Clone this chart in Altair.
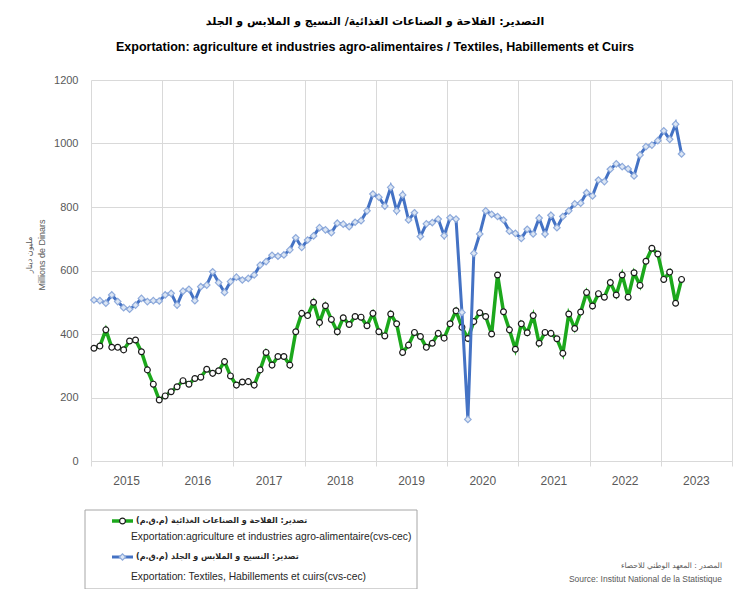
import altair as alt
import pandas as pd

# ---------------- data (monthly, Jan 2015 - Apr 2023) ----------------
years = [2015, 2016, 2017, 2018, 2019, 2020, 2021, 2022, 2023]

agri = [355, 362, 413, 358, 358, 350, 378, 381, 344, 287, 242, 192,
        205, 218, 234, 253, 242, 260, 264, 289, 276, 284, 313, 268,
        239, 249, 250, 239, 287, 342, 302, 329, 329, 302, 407, 465,
        458, 500, 436, 489, 446, 407, 451, 430, 455, 453, 426, 465,
        407, 394, 463, 432, 342, 365, 405, 392, 358, 371, 402, 387,
        432, 473, 421, 386, 439, 467, 455, 400, 586, 470, 413, 352,
        432, 404, 458, 371, 405, 402, 385, 339, 463, 417, 469, 531,
        488, 527, 516, 562, 523, 586, 516, 593, 553, 629, 670, 652,
        572, 595, 497, 572]

textile = [507, 505, 497, 523, 502, 483, 478, 491, 512, 502, 505, 504,
           523, 528, 491, 535, 541, 505, 549, 554, 596, 562, 531, 565,
           579, 570, 575, 586, 617, 628, 648, 645, 649, 665, 703, 673,
           696, 709, 735, 728, 719, 749, 746, 738, 752, 757, 788, 841,
           831, 803, 862, 788, 838, 759, 782, 707, 747, 751, 762, 710,
           766, 762, 468, 131, 654, 715, 788, 777, 770, 759, 724, 717,
           701, 730, 715, 765, 715, 774, 735, 770, 788, 810, 812, 845,
           835, 885, 880, 919, 936, 927, 920, 898, 964, 990, 995, 1009,
           1040, 1013, 1061, 967]

y_ticks = [0, 200, 400, 600, 800, 1000, 1200]

title_ar = "التصدير: الفلاحة و الصناعات الغذائية/ النسيج و الملابس و الجلد"
title_fr = "Exportation: agriculture et industries agro-alimentaires / Textiles, Habillements et Cuirs"
ytitle_ar = "مليون دينار"
ytitle_fr = "Millions de Dinars"
leg_agri_ar = "تصدير: الفلاحة و الصناعات الغذائية  (م.ق.م)\u200f"
leg_agri_fr = "Exportation:agriculture et industries agro-alimentaire(cvs-cec)"
leg_tex_ar = "تصدير: النسيج و الملابس و الجلد (م.ق.م)\u200f"
leg_tex_fr = "Exportation: Textiles, Habillements et cuirs(cvs-cec)"
src_ar = "المصدر : المعهد الوطني للاحصاء"
src_fr = "Source: Institut National de la Statistique"

# ---------------- frames ----------------
n_months = len(years) * 12
rows = []
for i, v in enumerate(agri):
    rows.append({"m": i, "value": v, "series": "agri"})
for i, v in enumerate(textile):
    rows.append({"m": i, "value": v, "series": "textile"})
df = pd.DataFrame(rows)

df_years = pd.DataFrame({"year": [str(y) for y in years],
                         "mid": [12 * k + 5.5 for k in range(len(years))]})
one = pd.DataFrame({"a": [0]})

W, H = 641, 381
GREEN = "#1ca81c"
BLUE = "#4472c4"
GRID = "#d9d9d9"
NARROW = "Liberation Sans Narrow, Arial Narrow, Liberation Sans, sans-serif"
ARAB = "DejaVu Sans, Noto Sans, sans-serif"

bounds = [-0.5 + 12 * k for k in range(len(years) + 1)]
x_scale = alt.Scale(domain=[-0.5, n_months - 0.5], nice=False, zero=False)
y_scale = alt.Scale(domain=[0, 1200], nice=False)

x_enc = alt.X("m:Q", scale=x_scale,
              axis=alt.Axis(values=bounds, labels=False, title=None, grid=True,
                            gridColor=GRID, tickColor=GRID, tickSize=5,
                            domain=False))
y_enc = alt.Y("value:Q", scale=y_scale,
              axis=alt.Axis(values=y_ticks, title=None, grid=True, gridColor=GRID,
                            ticks=False, domain=False, labelColor="#595959",
                            labelFont=NARROW, labelFontSize=11, labelPadding=13,
                            format="d"))

base = alt.Chart(df)
agri_line = base.transform_filter(alt.datum.series == "agri").mark_line(
    color=GREEN, strokeWidth=3.5).encode(x=x_enc, y=y_enc)
agri_pts = base.transform_filter(alt.datum.series == "agri").mark_point(
    shape="circle", filled=True, fill="white", stroke="#1a1a1a",
    strokeWidth=1.2, size=34, opacity=1).encode(x=x_enc, y=y_enc)
tex_line = base.transform_filter(alt.datum.series == "textile").mark_line(
    color=BLUE, strokeWidth=3).encode(x=x_enc, y=y_enc)
tex_pts = base.transform_filter(alt.datum.series == "textile").mark_point(
    shape="diamond", filled=True, fill="#dce6f4", stroke="#8eaadb",
    strokeWidth=1.2, size=42, opacity=1).encode(x=x_enc, y=y_enc)

year_labels = alt.Chart(df_years).mark_text(
    font=NARROW, fontSize=12, color="#595959", baseline="middle").encode(
    x=alt.X("mid:Q", scale=x_scale), y=alt.value(H + 20), text="year:N")


def txt(s, x, y, size, color="#000000", bold=False, align="left",
        font=NARROW, angle=0):
    kw = dict(text=s, fontSize=size, color=color, align=align,
              baseline="middle", font=font,
              fontWeight="bold" if bold else "normal")
    if angle:
        kw["angle"] = angle
    return alt.Chart(one).mark_text(**kw).encode(x=alt.value(x), y=alt.value(y))


titles = [
    txt(title_ar, 284, -58, 11, bold=True, align="center", font=ARAB),
    txt(title_fr, 284, -33, 12.5, bold=True, align="center"),
    txt(ytitle_ar, -61, 175, 8, color="#595959", align="center", font=ARAB, angle=270),
    txt(ytitle_fr, -49, 175, 9, color="#595959", align="center", angle=270),
]

legend_box = alt.Chart(one).mark_rect(fill="white", stroke="#a6a6a6", strokeWidth=1).encode(
    x=alt.value(-6), x2=alt.value(326), y=alt.value(430), y2=alt.value(509))
leg_g_rule = alt.Chart(one).mark_rule(color=GREEN, strokeWidth=3.5).encode(
    x=alt.value(21), x2=alt.value(42), y=alt.value(441))
leg_g_pt = alt.Chart(one).mark_point(shape="circle", filled=True, fill="white",
                                     stroke="#1a1a1a", strokeWidth=1.2, size=34,
                                     opacity=1).encode(x=alt.value(31.5), y=alt.value(441))
leg_b_rule = alt.Chart(one).mark_rule(color=BLUE, strokeWidth=3).encode(
    x=alt.value(21), x2=alt.value(42), y=alt.value(477))
leg_b_pt = alt.Chart(one).mark_point(shape="diamond", filled=True, fill="#dce6f4",
                                     stroke="#8eaadb", strokeWidth=1.2, size=42,
                                     opacity=1).encode(x=alt.value(31.5), y=alt.value(477))
legend_txt = [
    txt(leg_agri_ar, 45, 441, 8, color="#262626", bold=True, font=ARAB),
    txt(leg_agri_fr, 40, 457, 10.3, color="#262626"),
    txt(leg_tex_ar, 45, 477, 8, color="#262626", bold=True, font=ARAB),
    txt(leg_tex_fr, 40, 497, 10.3, color="#262626"),
]
source_txt = [
    txt(src_ar, 631, 486, 7.5, color="#595959", align="right", font=ARAB),
    txt(src_fr, 631, 499, 8.5, color="#595959", align="right"),
]

chart = alt.layer(
    agri_line, agri_pts, tex_line, tex_pts, year_labels,
    *titles, legend_box, leg_g_rule, leg_g_pt, leg_b_rule, leg_b_pt,
    *legend_txt, *source_txt
).properties(
    width=W, height=H,
    autosize=alt.AutoSizeParams(type="none"),
    padding={"left": 83, "top": 72, "right": 10, "bottom": 128},
).configure_view(stroke=None)

chart.save("out.html", embed_options={"renderer": "svg", "actions": False})
